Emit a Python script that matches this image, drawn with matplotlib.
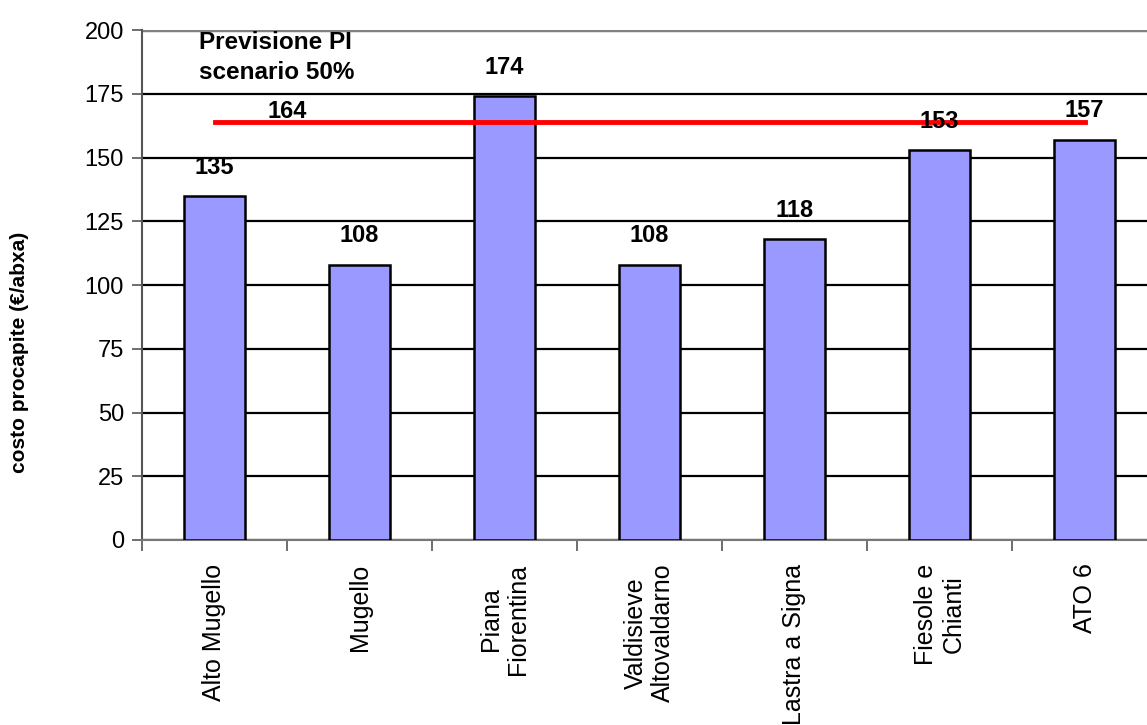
import matplotlib
matplotlib.use('Agg')
import matplotlib.pyplot as plt
import numpy as np

zone = ['Alto Mugello', 'Mugello', 'Piana\nFiorentina', 'Valdisieve\nAltovaldarno',
        'Lastra a Signa', 'Fiesole e\nChianti', 'ATO 6']
costo = [135, 108, 174, 108, 118, 153, 157]
previsione = 164
previsione_label = 'Previsione PI\nscenario 50%'

plt.rcParams['font.family'] = ['Liberation Sans', 'DejaVu Sans']

fig = plt.figure(figsize=(11.47, 7.25), dpi=100)
# plot area runs slightly past the right edge, as in the original
ax = fig.add_axes([142 / 1147, 1 - 540 / 725, 1015 / 1147, 510 / 725])

x = np.arange(len(zone))
ax.set_axisbelow(True)
ax.yaxis.grid(True, color='black', linewidth=1.6)
ax.bar(x, costo, width=0.42, color='#9999ff', edgecolor='black', linewidth=1.8, zorder=3)

ax.plot([x[0], x[-1]], [previsione, previsione], color='#ff0000', linewidth=3.5, zorder=4)

for xi, v in zip(x, costo):
    ax.annotate(str(v), (xi, v), xytext=(0, 16), textcoords='offset points',
                ha='center', va='baseline', fontsize=17, fontweight='bold', zorder=5)

ax.annotate(str(previsione), (0.5, previsione), xytext=(0, 3), textcoords='offset points',
            ha='center', va='baseline', fontsize=17, fontweight='bold', zorder=5)
ax.text(-0.11, 199.5, previsione_label, ha='left', va='top', fontsize=17.5,
        fontweight='bold', linespacing=1.4, zorder=5)

ax.set_xlim(-0.5, len(zone) - 0.5)
ax.set_ylim(0, 200)
ax.set_yticks(np.arange(0, 201, 25))
ax.tick_params(axis='y', labelsize=17, length=7, width=1.2, color='#555555', pad=6)
ax.set_xticks(x - 0.5, minor=False)
ax.set_xticklabels([])
ax.set_xticks(x, minor=True)
ax.set_xticklabels(zone, minor=True, rotation=90, fontsize=18, ha='center', va='top',
                   multialignment='center')
ax.tick_params(axis='x', which='major', length=8, width=1.2, color='#555555')
ax.tick_params(axis='x', which='minor', length=0, pad=17)

for s in ['top', 'right']:
    ax.spines[s].set_visible(False)
ax.spines['left'].set_color('#555555')
ax.spines['left'].set_linewidth(1.5)
ax.spines['bottom'].set_color('#777777')
ax.spines['bottom'].set_linewidth(1.5)
ax.axhline(200, color='#808080', linewidth=2.5, zorder=1)

fig.text(20 / 1147, 1 - 352 / 725, 'costo procapite (€/abxa)', rotation=90,
         ha='center', va='center', fontsize=15, fontweight='bold')

fig.savefig('out.png', dpi=100)
